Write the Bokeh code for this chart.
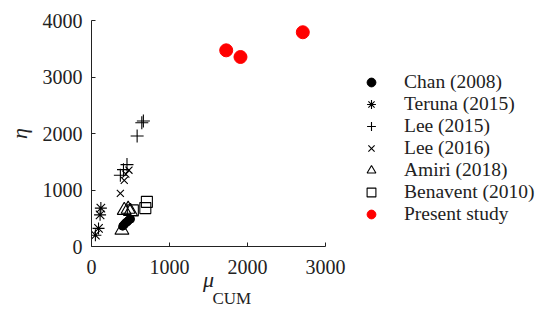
from bokeh.plotting import figure
from bokeh.layouts import row
from bokeh.models import Range1d, Legend, LegendItem, Title, FixedTicker
from bokeh.embed import file_html
from bokeh.resources import INLINE

# ---- data ----
chan_x = [400, 420, 440, 460, 480, 500]
chan_y = [360, 390, 420, 440, 470, 485]
teruna_x = [120, 110, 90, 50]
teruna_y = [680, 560, 320, 200]
lee15_x = [645, 665, 585, 455, 410, 370]
lee15_y = [2190, 2220, 1955, 1450, 1360, 1260]
lee16_x = [480, 440, 420, 370]
lee16_y = [1350, 1280, 1170, 940]
amiri_x = [420, 470, 500, 390]
amiri_y = [640, 660, 620, 290]
bena_x = [710, 690, 530]
bena_y = [790, 680, 640]
present_x = [1727, 1910, 2709]
present_y = [3472, 3354, 3792]

series_labels = ["Chan (2008)", "Teruna (2015)", "Lee (2015)", "Lee (2016)",
                 "Amiri (2018)", "Benavent (2010)", "Present study"]

x_ticks = [0, 1000, 2000, 3000]
y_ticks = [0, 1000, 2000, 3000, 4000]

FONT = "Liberation Serif"
INK = "#222222"

p = figure(width=350, height=322, output_backend="svg", toolbar_location=None,
           x_range=Range1d(0, 3000), y_range=Range1d(0, 4000),
           min_border_left=91, min_border_right=25, min_border_top=20, min_border_bottom=76)
p.outline_line_color = None
p.grid.visible = False
p.background_fill_color = "white"
p.border_fill_color = "white"

for ax in (p.xaxis[0], p.yaxis[0]):
    ax.major_tick_in = 4
    ax.major_tick_out = 0
    ax.minor_tick_in = 0
    ax.minor_tick_out = 0
    ax.axis_line_color = INK
    ax.major_tick_line_color = INK
    ax.major_label_text_font = FONT
    ax.major_label_text_font_size = "20px"
    ax.major_label_text_color = INK

p.xaxis.ticker = FixedTicker(ticks=x_ticks)
p.yaxis.ticker = FixedTicker(ticks=y_ticks)
p.xaxis.major_label_standoff = 13
p.yaxis.major_label_standoff = 9

p.yaxis.axis_label = "η"
p.yaxis.axis_label_text_font = FONT
p.yaxis.axis_label_text_font_size = "22px"
p.yaxis.axis_label_text_font_style = "italic"
p.yaxis.axis_label_text_color = INK
p.yaxis.axis_label_standoff = 8

p.xaxis.axis_label = "μ"
p.xaxis.axis_label_text_font = FONT
p.xaxis.axis_label_text_font_size = "22px"
p.xaxis.axis_label_text_font_style = "italic"
p.xaxis.axis_label_text_color = INK
p.xaxis.axis_label_standoff = -10

sub = Title(text="CUM", align="left", offset=121, standoff=-15,
            text_font=FONT, text_font_size="17px", text_font_style="normal",
            text_color=INK)
p.add_layout(sub, "below")

lw = 1.1
styles = [
    dict(marker="circle", size=8, color="black"),
    dict(marker="asterisk", size=12, line_color="black", line_width=lw),
    dict(marker="cross", size=13, line_color="black", line_width=lw),
    dict(marker="x", size=10, line_color="black", line_width=lw),
    dict(marker="triangle", size=14, line_color="black", fill_color=None, line_width=lw),
    dict(marker="square", size=11, line_color="black", fill_color=None, line_width=lw),
    dict(marker="circle", size=13, color="red"),
]
data = [(chan_x, chan_y), (teruna_x, teruna_y), (lee15_x, lee15_y), (lee16_x, lee16_y),
        (amiri_x, amiri_y), (bena_x, bena_y), (present_x, present_y)]
for (xs, ys), st in zip(data, styles):
    p.scatter(xs, ys, **st)

# ---- legend panel (separate figure; its frame is aligned with the plot frame) ----
lg = figure(width=189, height=322, output_backend="svg", toolbar_location=None,
            x_range=Range1d(0, 1), y_range=Range1d(0, 1),
            min_border_left=0, min_border_right=0, min_border_top=20, min_border_bottom=76)
lg.axis.visible = False
lg.grid.visible = False
lg.outline_line_color = None
lg.background_fill_color = "white"
lg.border_fill_color = "white"

items = []
for lab, st in zip(series_labels, styles):
    # proxy renderer for the legend swatch only (point lies outside this panel's range)
    r = lg.scatter([-5], [-5], **st)
    items.append(LegendItem(label=lab, renderers=[r]))

legend = Legend(items=items, location=(9, 21.5), padding=0, margin=0, spacing=0,
                border_line_color=None, background_fill_alpha=0,
                label_text_font=FONT, label_text_font_size="19.5px", label_text_color=INK,
                glyph_width=24, glyph_height=22, label_height=20, label_standoff=21)
lg.add_layout(legend, "center")

layout = row(p, lg, spacing=0)
open("out.html", "w").write(file_html(layout, INLINE))
